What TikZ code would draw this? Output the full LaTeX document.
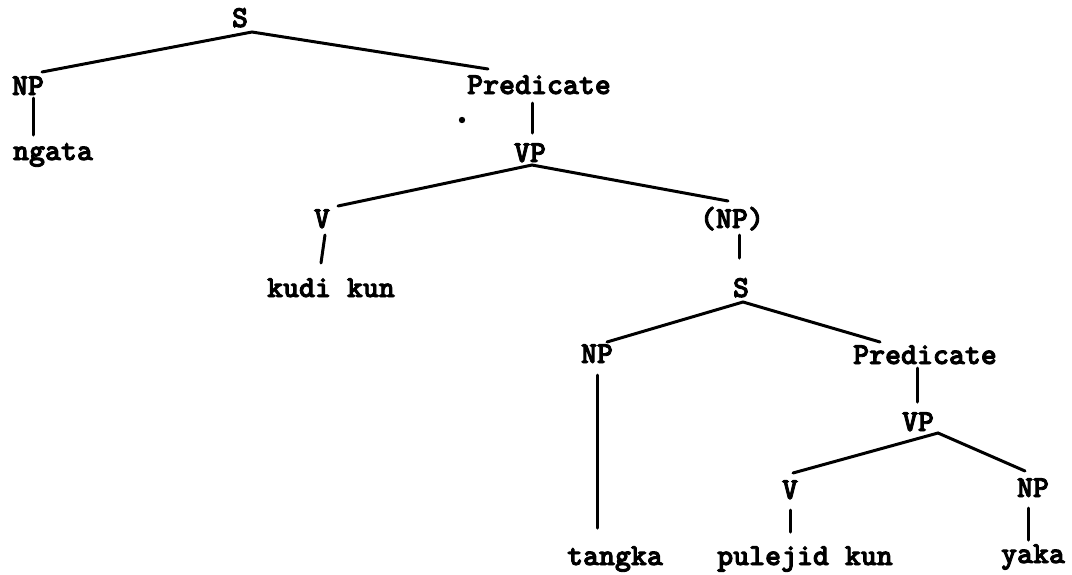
\documentclass[tikz,border=0pt]{standalone}
\font\twfont="[lmmonolt10-bold.otf]:embolden=3" at 15.2pt
\begin{document}
\begin{tikzpicture}[x=0.5pt,y=-0.5pt,
  lbl/.style={font=\twfont, anchor=base, inner sep=0pt},
  br/.style={line width=1.5pt, line cap=round}]
\useasboundingbox (0,0) rectangle (1072,574);
% labels
\node[lbl] (S1) at (240,27) {S};
\node[lbl] (NP1) at (28,95) {NP};
\node[lbl] (ngata) at (53,160) {ngata};
\node[lbl] (Pred1) at (539,94) {Predicate};
\node[lbl] (VP1) at (530,162) {VP};
\node[lbl] (V1) at (322,228) {V};
\node[lbl] (kudi) at (331,297) {kudi kun};
\node[lbl] (NPp) at (732,228) {(NP)};
\node[lbl] (S2) at (741,297) {S};
\node[lbl] (NP2) at (597,363) {NP};
\node[lbl] (Pred2) at (925,364) {Predicate};
\node[lbl] (VP2) at (918,431) {VP};
\node[lbl] (V3) at (790,499) {V};
\node[lbl] (NP3) at (1033,497) {NP};
\node[lbl] (tangka) at (615,565) {tangka};
\node[lbl] (pulejid) at (805,565) {pulejid kun};
\node[lbl] (yaka) at (1033,563) {yaka};
% branches
\draw[br] ([shift={(14,-23)}]NP1.base) -- ([shift={(12,5)}]S1.base) -- ([shift={(-51,-25)}]Pred1.base);
\draw[br] ([shift={(5,3)}]NP1.base) -- ([shift={(-20,-25)}]ngata.base);
\draw[br] ([shift={(-7,9)}]Pred1.base) -- ([shift={(2,-29)}]VP1.base);
\draw[br] ([shift={(16,-22)}]V1.base) -- ([shift={(2,3)}]VP1.base) -- ([shift={(-4,-27)}]NPp.base);
\draw[br] ([shift={(3,7)}]V1.base) -- ([shift={(-10,-34)}]kudi.base);
\draw[br] ([shift={(7,7)}]NPp.base) -- ([shift={(-2,-39)}]S2.base);
\draw[br] ([shift={(10,-21)}]NP2.base) -- ([shift={(2,5)}]S2.base) -- ([shift={(-45,-22)}]Pred2.base);
\draw[br] ([shift={(0,12)}]NP2.base) -- ([shift={(-18,-37)}]tangka.base);
\draw[br] ([shift={(-8,4)}]Pred2.base) -- ([shift={(-1,-29)}]VP2.base);
\draw[br] ([shift={(3,-26)}]V3.base) -- ([shift={(20,2)}]VP2.base) -- ([shift={(-8,-26)}]NP3.base);
\draw[br] ([shift={(0,11)}]V3.base) -- ([shift={(-15,-33)}]pulejid.base);
\draw[br] ([shift={(-5,11)}]NP3.base) -- ([shift={(-5,-23)}]yaka.base);
% stray dot
\fill ([shift={(-77,26)}]Pred1.base) circle (1.6pt);
\end{tikzpicture}
\end{document}
